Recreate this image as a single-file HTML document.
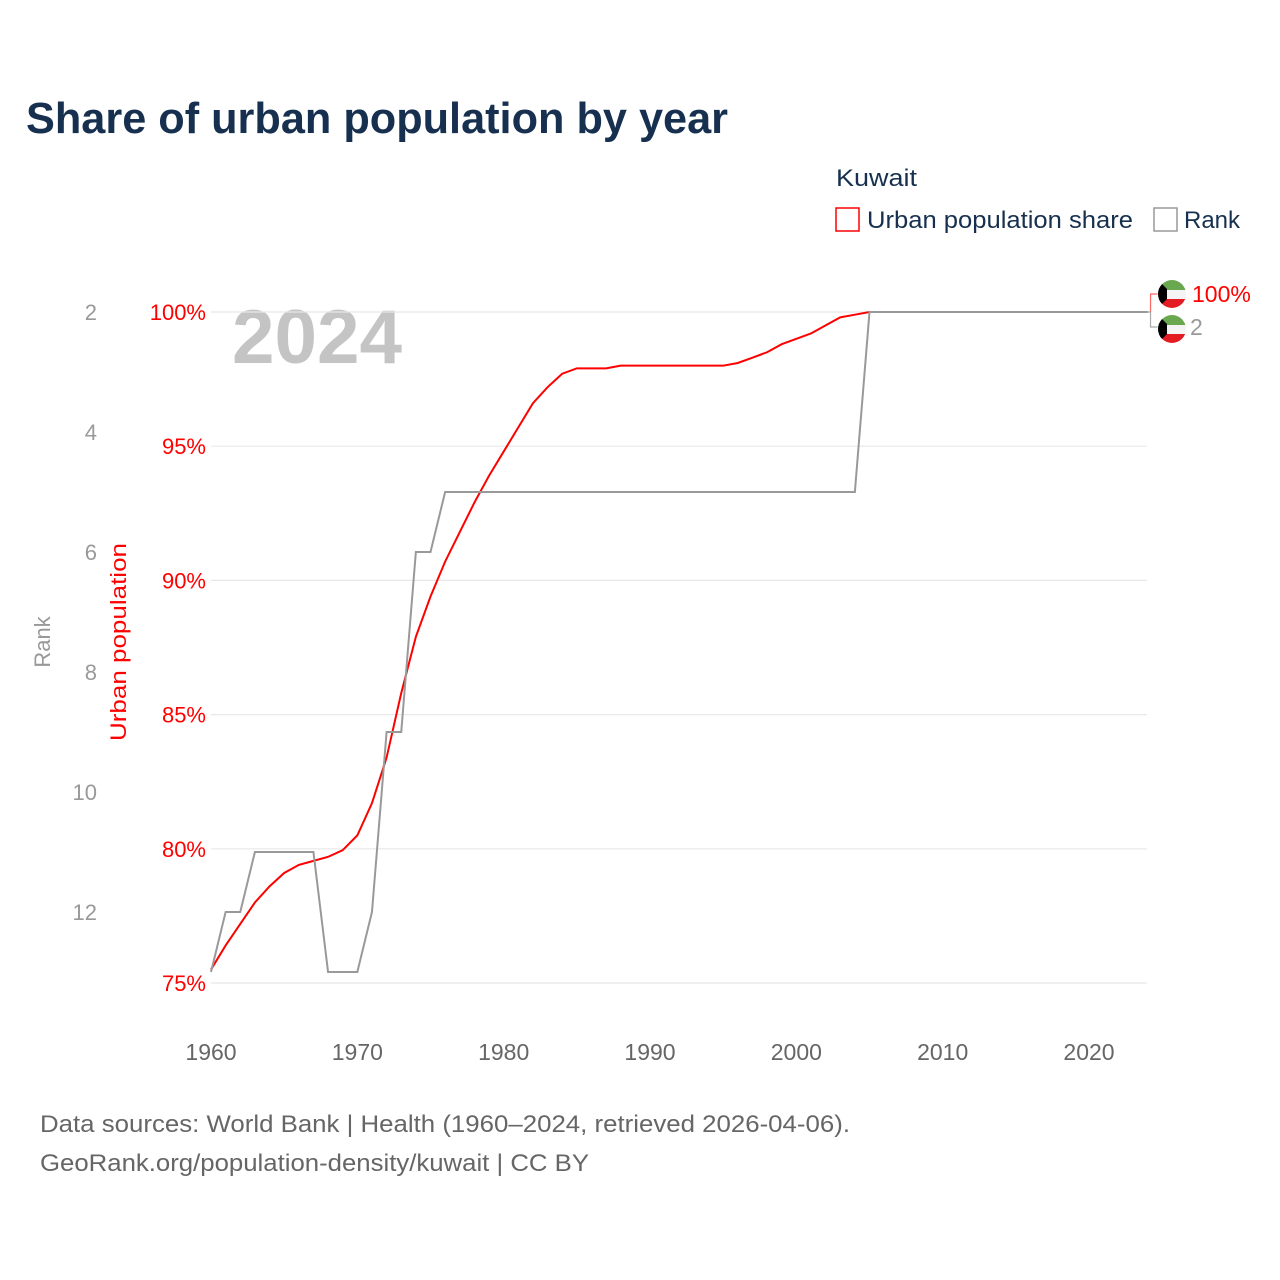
<!DOCTYPE html>
<html><head><meta charset="utf-8"><style>
html,body{margin:0;padding:0;background:#fff;}
svg{display:block;font-family:"Liberation Sans",sans-serif;}
</style></head><body>
<svg id="chart" width="1280" height="1280" viewBox="0 0 1280 1280">
<text x="26" y="133" font-size="44" font-weight="bold" fill="#17304f" textLength="702" lengthAdjust="spacingAndGlyphs">Share of urban population by year</text>
<text x="836" y="186" font-size="24" fill="#17304f" textLength="81" lengthAdjust="spacingAndGlyphs">Kuwait</text>
<g><rect x="836" y="208" width="23" height="23" fill="none" stroke="#f00" stroke-width="1.5"/><text x="867" y="228" font-size="24" fill="#17304f" textLength="266" lengthAdjust="spacingAndGlyphs">Urban population share</text></g>
<g><rect x="1154" y="208" width="23" height="23" fill="none" stroke="#999" stroke-width="1.5"/><text x="1184" y="228" font-size="24" fill="#17304f">Rank</text></g>
<text x="232" y="363" font-size="76" font-weight="bold" fill="#c4c4c4" textLength="170" lengthAdjust="spacingAndGlyphs">2024</text>
<g id="grid"></g><g id="axes"></g><g id="lines"></g><g id="endlabels"></g>
<text transform="translate(50,642) rotate(-90)" text-anchor="middle" font-size="22" fill="#999">Rank</text>
<text transform="translate(126,642) rotate(-90)" text-anchor="middle" font-size="22" fill="#f00" textLength="198" lengthAdjust="spacingAndGlyphs">Urban population</text>
<text x="40" y="1132" font-size="24" fill="#666" textLength="810" lengthAdjust="spacingAndGlyphs">Data sources: World Bank | Health (1960–2024, retrieved 2026-04-06).</text>
<text x="40" y="1171" font-size="24" fill="#666" textLength="549" lengthAdjust="spacingAndGlyphs">GeoRank.org/population-density/kuwait | CC BY</text>
</svg>
<script>
const years=[];for(let y=1960;y<=2024;y++)years.push(y);
const urbanShare=[75.5,76.4,77.2,78.0,78.6,79.1,79.4,79.55,79.7,79.95,80.5,81.7,83.4,85.8,87.9,89.4,90.7,91.8,92.9,93.9,94.8,95.7,96.6,97.2,97.7,97.9,97.9,97.9,98.0,98.0,98.0,98.0,98.0,98.0,98.0,98.0,98.1,98.3,98.5,98.8,99.0,99.2,99.5,99.8,99.9,100,100,100,100,100,100,100,100,100,100,100,100,100,100,100,100,100,100,100,100];
const rankValues=[13,12,12,11,11,11,11,11,13,13,13,12,9,9,6,6,5,5,5,5,5,5,5,5,5,5,5,5,5,5,5,5,5,5,5,5,5,5,5,5,5,5,5,5,5,2,2,2,2,2,2,2,2,2,2,2,2,2,2,2,2,2,2,2,2];
const xTicks=[1960,1970,1980,1990,2000,2010,2020];
const pctTicks=[75,80,85,90,95,100];
const rankTicks=[2,4,6,8,10,12];
const NS='http://www.w3.org/2000/svg';
const X=y=>211+(y-1960)*878/60;
const YP=p=>312+(100-p)*26.84;
const YR=r=>312+(r-2)*60;
function el(t,a,parent){const e=document.createElementNS(NS,t);for(const k in a)e.setAttribute(k,a[k]);document.getElementById(parent).appendChild(e);return e;}
pctTicks.forEach(p=>{
 const g=el('line',{x1:211,x2:1147,y1:YP(p),y2:YP(p),stroke:'#e8e8e8','stroke-width':1.2},'grid');
 
 
 const t=el('text',{x:206,y:YP(p)+8,'text-anchor':'end','font-size':22,fill:'#f00'},'axes');t.textContent=p+'%';
 
 
});
rankTicks.forEach(r=>{
 const t=el('text',{x:97,y:YR(r)+8,'text-anchor':'end','font-size':22,fill:'#999'},'axes');t.textContent=r;
 
 
});
xTicks.forEach(y=>{
 const t=el('text',{x:X(y),y:1060,'text-anchor':'middle','font-size':23,fill:'#666'},'axes');t.textContent=y;
 
 
});
const up=el('polyline',{points:years.map((y,i)=>X(y)+','+YP(urbanShare[i])).join(' '),fill:'none',stroke:'#f00','stroke-width':2},'lines');


const rp=el('polyline',{points:years.map((y,i)=>X(y)+','+YR(rankValues[i])).join(' '),fill:'none',stroke:'#999','stroke-width':2},'lines');


const last=years.length-1, ex=X(years[last]);
const uy=YP(urbanShare[last]), ry=YR(rankValues[last]);
const ly1=294, ly2=327;
el('polyline',{points:`${ex},${uy} ${ex+3},${uy} ${ex+3},${ly1} ${ex+10},${ly1}`,fill:'none',stroke:'#f66','stroke-width':1.2},'endlabels');
el('polyline',{points:`${ex},${ry} ${ex+3},${ry} ${ex+3},${ly2} ${ex+10},${ly2}`,fill:'none',stroke:'#aaa','stroke-width':1.2},'endlabels');
function flag(cx,cy,name){
 const g=el('g',{},'endlabels');
 
 
 const id='c'+cy;
 const cp=document.createElementNS(NS,'clipPath');cp.setAttribute('id',id);
 const c=document.createElementNS(NS,'circle');c.setAttribute('cx',cx);c.setAttribute('cy',cy);c.setAttribute('r',14);cp.appendChild(c);g.appendChild(cp);
 const add=(t,a)=>{const e=document.createElementNS(NS,t);for(const k in a)e.setAttribute(k,a[k]);e.setAttribute('clip-path','url(#'+id+')');g.appendChild(e);};
 add('rect',{x:cx-14,y:cy-14,width:28,height:10,fill:'#6aa84f'});
 add('rect',{x:cx-14,y:cy-4,width:28,height:9,fill:'#f4f4f4'});
 add('rect',{x:cx-14,y:cy+5,width:28,height:10,fill:'#e31b23'});
 add('polygon',{points:`${cx-14},${cy-14} ${cx-5},${cy-5} ${cx-5},${cy+5} ${cx-14},${cy+14}`,fill:'#000'});
}
flag(1172,ly1,'urban-end-flag');flag(1172,ly2+2,'rank-end-flag');
const t1=el('text',{x:1192,y:ly1+8,'font-size':23,fill:'#f00'},'endlabels');t1.textContent=urbanShare[last]+'%';


const t2=el('text',{x:1190,y:ly2+8,'font-size':23,fill:'#999'},'endlabels');t2.textContent=rankValues[last];


</script>
</body></html>
